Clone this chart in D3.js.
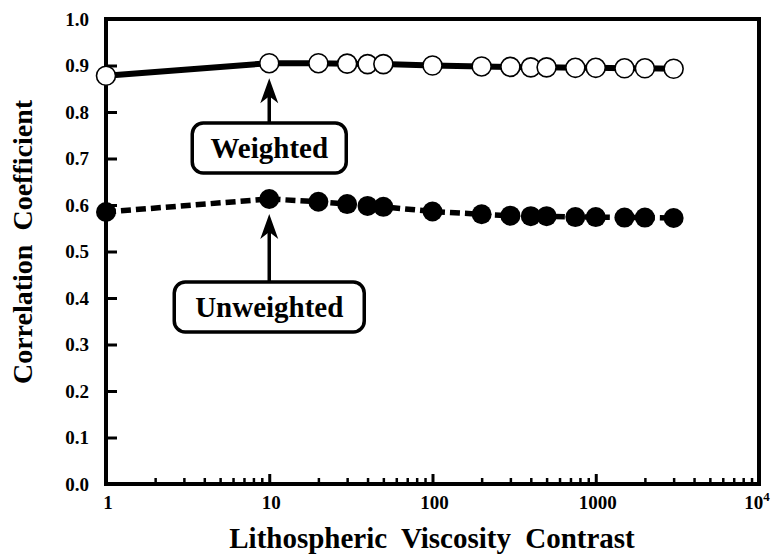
<!DOCTYPE html>
<html>
<head>
<meta charset="utf-8">
<script src="https://cdn.jsdelivr.net/npm/d3@7"></script>
<style>
  html, body { margin: 0; padding: 0; background: #fff; }
  svg { display: block; }
  text { font-family: "Liberation Serif", "Times New Roman", serif; font-weight: bold; fill: #000; }
</style>
</head>
<body>
<svg id="chart" width="773" height="560"></svg>
<script>
// ---- data ----
const contrast = [1, 10, 20, 30, 40, 50, 100, 200, 300, 400, 500, 750, 1000, 1500, 2000, 3000];
const weighted = [0.878, 0.905, 0.905, 0.904, 0.903, 0.903, 0.900, 0.898, 0.897, 0.896, 0.896, 0.895, 0.895, 0.894, 0.894, 0.893];
const unweighted = [0.585, 0.613, 0.607, 0.602, 0.598, 0.596, 0.586, 0.580, 0.577, 0.576, 0.576, 0.574, 0.574, 0.573, 0.573, 0.572];
const yTicks = [0.0, 0.1, 0.2, 0.3, 0.4, 0.5, 0.6, 0.7, 0.8, 0.9, 1.0];
const xDecades = [1, 10, 100, 1000, 10000];
const xTickLabels = ["1", "10", "100", "1000", "10^4"];
const labels = [
  { text: "Weighted", at: 10, series: "weighted" },
  { text: "Unweighted", at: 10, series: "unweighted" }
];

// ---- layout ----
const svg = d3.select("#chart");
const L = 106, R = 759, T = 19, B = 484;
const x = d3.scaleLog().domain([1, 10000]).range([L, R]);
const y = d3.scaleLinear().domain([0, 1]).range([B, T]);

// frame
svg.append("rect").attr("x", L).attr("y", T).attr("width", R - L).attr("height", B - T)
  .attr("fill", "none").attr("stroke", "#000").attr("stroke-width", 4);

// y axis (ticks inward)
const yAxis = d3.axisRight(y).tickValues(yTicks).tickSize(11).tickFormat("");
const gy = svg.append("g").attr("transform", `translate(${L},0)`).call(yAxis);
gy.select(".domain").remove();
gy.selectAll(".tick line").attr("stroke", "#000").attr("stroke-width", 3);
svg.append("g").selectAll("text").data(yTicks).join("text")
  .attr("x", 89).attr("y", d => y(d)).attr("dy", "0.35em")
  .attr("text-anchor", "end").attr("font-size", 19)
  .text(d => d.toFixed(1));

// x axis minor ticks (inward)
const minor = [];
for (let e = 0; e < 4; e++) for (let k = 2; k <= 9; k++) minor.push(k * Math.pow(10, e));
const gxm = svg.append("g").attr("transform", `translate(0,${B})`)
  .call(d3.axisTop(x).tickValues(minor).tickSize(6).tickFormat(""));
gxm.select(".domain").remove();
gxm.selectAll(".tick line").attr("stroke", "#000").attr("stroke-width", 2.5);
const gxM = svg.append("g").attr("transform", `translate(0,${B})`)
  .call(d3.axisTop(x).tickValues(xDecades).tickSize(10).tickFormat(""));
gxM.select(".domain").remove();
gxM.selectAll(".tick line").attr("stroke", "#000").attr("stroke-width", 3);

const xl = svg.append("g").selectAll("text").data(xDecades).join("text")
  .attr("x", d => x(d) + (d === 10000 ? -2 : 2)).attr("y", 509)
  .attr("text-anchor", "middle").attr("font-size", 19);
xl.each(function(d, i) {
  const t = d3.select(this);
  const s = xTickLabels[i];
  if (s.includes("^")) {
    const [b, p] = s.split("^");
    t.append("tspan").text(b);
    t.append("tspan").attr("dy", -8).attr("font-size", 13).text(p);
  } else t.text(s);
});

// axis titles
svg.append("text").attr("x", 432).attr("y", 548).attr("text-anchor", "middle")
  .attr("font-size", 29).attr("word-spacing", 7)
  .text("Lithospheric Viscosity Contrast");
svg.append("text").attr("transform", "translate(32,242) rotate(-90)")
  .attr("text-anchor", "middle").attr("font-size", 28).attr("word-spacing", 7)
  .text("Correlation Coefficient");

// lines
const line = d3.line().x(d => x(d[0])).y(d => y(d[1]));
svg.append("path").datum(contrast.map((c, i) => [c, weighted[i]]))
  .attr("d", line).attr("fill", "none").attr("stroke", "#000").attr("stroke-width", 6);
svg.append("path").datum(contrast.map((c, i) => [c, unweighted[i]]))
  .attr("d", line).attr("fill", "none").attr("stroke", "#000").attr("stroke-width", 5.5)
  .attr("stroke-dasharray", "10,5");

// markers
svg.append("g").selectAll("circle").data(contrast.map((c, i) => [c, weighted[i]])).join("circle")
  .attr("cx", d => x(d[0])).attr("cy", d => y(d[1])).attr("r", 9.5)
  .attr("fill", "#fff").attr("stroke", "#000").attr("stroke-width", 1.6);
svg.append("g").selectAll("circle").data(contrast.map((c, i) => [c, unweighted[i]])).join("circle")
  .attr("cx", d => x(d[0])).attr("cy", d => y(d[1])).attr("r", 10)
  .attr("fill", "#000");

// callout labels with arrows
const boxes = [
  { lab: labels[0], y0: y(weighted[1]), boxTop: 123, h: 50, w: 154 },
  { lab: labels[1], y0: y(unweighted[1]), boxTop: 282, h: 50, w: 190 }
];
boxes.forEach(b => {
  const cx = x(b.lab.at);
  const tip = b.y0 + 15;
  const g = svg.append("g");
  g.append("line").attr("x1", cx).attr("x2", cx).attr("y1", b.boxTop).attr("y2", tip + 14)
    .attr("stroke", "#000").attr("stroke-width", 3.5);
  g.append("path")
    .attr("d", `M${cx},${tip} L${cx - 9},${tip + 25} L${cx},${tip + 18} L${cx + 9},${tip + 25} Z`)
    .attr("fill", "#000");
  g.append("rect").attr("x", cx - b.w / 2).attr("y", b.boxTop).attr("width", b.w).attr("height", b.h)
    .attr("rx", 11).attr("fill", "#fff").attr("stroke", "#000").attr("stroke-width", 3.5);
  g.append("text").attr("x", cx).attr("y", b.boxTop + b.h / 2).attr("dy", "0.35em")
    .attr("text-anchor", "middle").attr("font-size", 29).text(b.lab.text);
});
</script>
</body>
</html>
